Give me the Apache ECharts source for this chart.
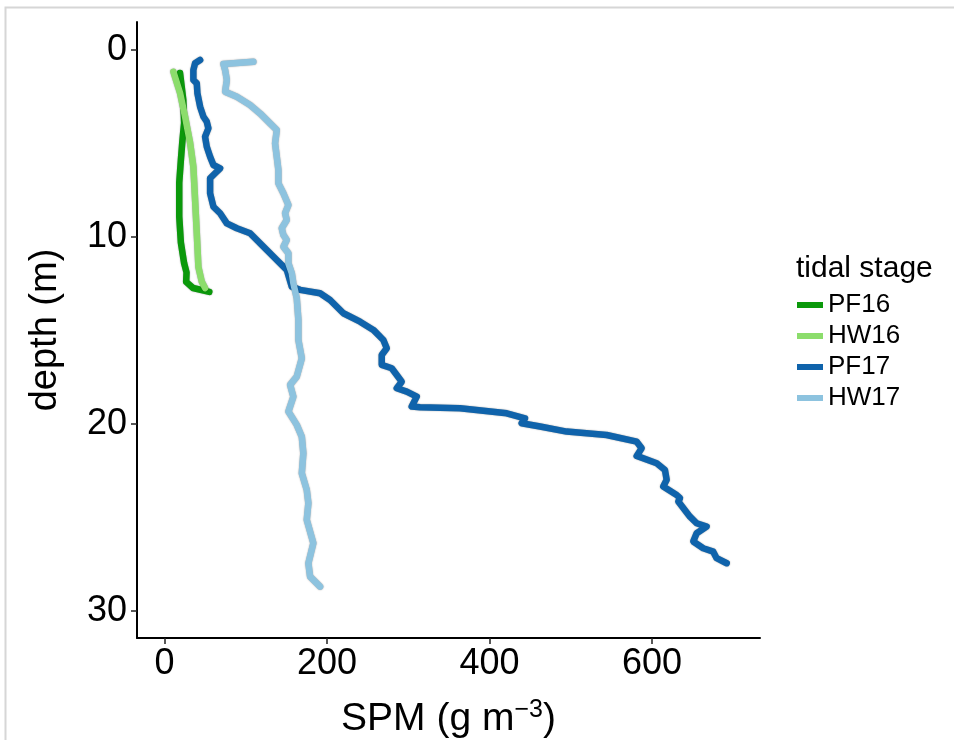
<!DOCTYPE html>
<html>
<head>
<meta charset="utf-8">
<script src="https://cdn.jsdelivr.net/npm/echarts@6/dist/echarts.min.js"></script>
<style>
html,body{margin:0;padding:0;background:#fff;}
#chart{width:954px;height:740px;}
</style>
</head>
<body>
<div id="chart"></div>
<script>
// Series names (tidal stage)
const seriesNames = ['PF16', 'HW16', 'PF17', 'HW17'];
// Tick labels
const xTicks = [0, 200, 400, 600];
const yTicks = [0, 10, 20, 30];

// Each series: SPM values (g m^-3) and matching depths (m)
const pf16Spm   = [19, 23, 24, 22, 20, 18, 18, 20, 24, 27, 26.5, 35, 55];
const pf16Depth = [1.23, 2.67, 3.9, 4.8, 5.9, 7.1, 8.9, 10.3, 11.4, 11.9, 12.4, 12.73, 12.94];

const hw16Spm   = [10.8, 19, 25.2, 31.4, 35.4, 37.5, 39.6, 41.6, 45.8, 49.8];
const hw16Depth = [1.16, 2.3, 3.57, 4.97, 6.24, 8.0, 9.8, 11.6, 12.4, 12.73];

const pf17Spm = [43.7, 37.5, 35.4, 35.4, 39.6, 40.4, 43.7, 47.8, 51.9, 53.9, 49.8, 51.9, 56.0, 60.1, 68.3, 62.2, 56.0, 56.0, 60.1, 68.3,
  76.6, 88.9, 105.2, 113.5, 125.8, 138.1, 150.4, 156.6, 166.8, 191.4, 203.7, 220.1, 240.6, 257.0, 269.3, 273.5, 267.3, 267.3, 279.6, 285.8,
  291.9, 285.8, 298.1, 310.4, 304.2, 314.5, 363.7, 421.2, 443.7, 439.6, 462.2, 495.0, 544.2, 581.2, 587.3, 581.2, 605.8, 616.0, 618.1, 613.9,
  630.4, 634.5, 632.4, 646.8, 655.0, 667.3, 655.0, 650.8, 663.1, 675.4, 679.6, 692.0];
const pf17Depth = [0.53, 0.71, 1.07, 1.6, 1.78, 2.32, 3.03, 3.57, 3.83, 4.19, 4.64, 5.17, 5.71, 6.15, 6.33, 6.59, 6.86, 7.66, 8.38, 8.73,
  9.27, 9.53, 9.80, 10.16, 10.7, 11.23, 11.76, 12.66, 12.83, 13.01, 13.37, 14.08, 14.53, 14.97, 15.51, 15.95, 16.31, 16.84, 17.02, 17.38,
  17.74, 18.09, 18.27, 18.54, 19.07, 19.11, 19.16, 19.43, 19.70, 19.96, 20.14, 20.41, 20.59, 20.95, 21.3, 21.71, 22.1, 22.46, 22.99, 23.35,
  23.8, 23.97, 24.15, 24.96, 25.31, 25.49, 25.85, 26.29, 26.65, 26.83, 27.18, 27.45];

const hw17Spm = [109.3, 72.4, 74.5, 76.6, 74.5, 88.9, 105.2, 117.5, 129.8, 138.1, 136.0, 138.1, 140.1, 140.1, 146.2, 152.4, 148.3, 150.4,
  144.2, 146.2, 150.4, 146.2, 152.4, 152.4, 156.6, 158.5, 162.7, 164.7, 164.7, 168.9, 162.7, 154.5, 158.5, 152.4, 162.7, 168.9, 170.8,
  168.9, 175.0, 177.0, 175.0, 183.1, 177.0, 179.1, 191.4];
const hw17Depth = [0.63, 0.75, 1.07, 1.6, 2.23, 2.5, 2.94, 3.39, 3.92, 4.28, 4.99, 5.71, 6.42, 7.13, 7.66, 8.29, 8.73, 9.09,
  9.53, 9.89, 10.16, 10.52, 10.87, 11.41, 11.94, 12.48, 13.28, 14.44, 15.51, 16.49, 17.47, 17.91, 18.54, 19.34, 20.05, 20.68, 21.57,
  22.64, 23.53, 24.24, 25.13, 26.38, 27.45, 28.17, 28.7];

const colors = ['#0b990b', '#8cdd6c', '#0f63ab', '#8dc3df'];

function pairs(xs, ys) { return xs.map((v, i) => [v, ys[i]]); }
const seriesData = [pairs(pf16Spm, pf16Depth), pairs(hw16Spm, hw16Depth), pairs(pf17Spm, pf17Depth), pairs(hw17Spm, hw17Depth)];

const FONT = '"Liberation Sans", Arial, Helvetica, sans-serif';
const chart = echarts.init(document.getElementById('chart'), null, {renderer: 'canvas'});

chart.setOption({
  backgroundColor: '#fff',
  animation: false,
  grid: {left: 137, top: 22, right: 194, bottom: 102, containLabel: false, outerBoundsMode: 'none'},
  xAxis: {
    type: 'value', min: -34, max: 733,
    name: 'SPM (g m{sup|\u22123})', nameLocation: 'middle', nameGap: 60,
    nameTextStyle: {fontFamily: FONT, fontSize: 39, color: '#000',
      rich: {sup: {fontFamily: FONT, fontSize: 25, color: '#000', verticalAlign: 'top', padding: [0, 0, 18, 0]}}},
    axisLine: {show: true, onZero: false, lineStyle: {color: '#000', width: 2}},
    axisTick: {show: true, length: 6, lineStyle: {color: '#222', width: 1.5}, customValues: xTicks},
    axisLabel: {fontFamily: FONT, fontSize: 36, color: '#000', margin: 8, customValues: xTicks},
    splitLine: {show: false}
  },
  yAxis: {
    type: 'value', min: -1.5, max: 31.45, inverse: true,
    name: 'depth (m)', nameLocation: 'middle', nameGap: 72,
    nameTextStyle: {fontFamily: FONT, fontSize: 38, color: '#000'},
    axisLine: {show: true, onZero: false, lineStyle: {color: '#000', width: 2}},
    axisTick: {show: true, length: 6, lineStyle: {color: '#222', width: 1.5}, customValues: yTicks},
    axisLabel: {fontFamily: FONT, fontSize: 36, color: '#000', margin: 10, customValues: yTicks},
    splitLine: {show: false}
  },
  legend: {
    orient: 'vertical', left: 792, top: 287,
    data: seriesNames,
    icon: 'rect', itemWidth: 26, itemHeight: 6, itemGap: 5,
    textStyle: {fontFamily: FONT, fontSize: 26, color: '#000', lineHeight: 26, padding: [0, 0, 0, 0]}
  },
  graphic: [
    {type: 'text', left: 796, top: 254, style: {text: 'tidal stage', font: '30px ' + FONT, fill: '#000'}},
    {type: 'rect', shape: {x: 5.5, y: 7.5, width: 1200, height: 1200}, style: {fill: 'none', stroke: '#d6d6d6', lineWidth: 2}, z: -1}
  ],
  series: seriesNames.map((n, i) => ({
    name: n, type: 'line', data: seriesData[i], showSymbol: false, symbol: 'none',
    smooth: false,
    lineStyle: {color: colors[i], width: 6.5, cap: 'round', join: 'round', shadowColor: 'rgba(0,0,0,0.4)', shadowBlur: 1.5},
    itemStyle: {color: colors[i]},
    emphasis: {disabled: true}
  }))
});
</script>
</body>
</html>
